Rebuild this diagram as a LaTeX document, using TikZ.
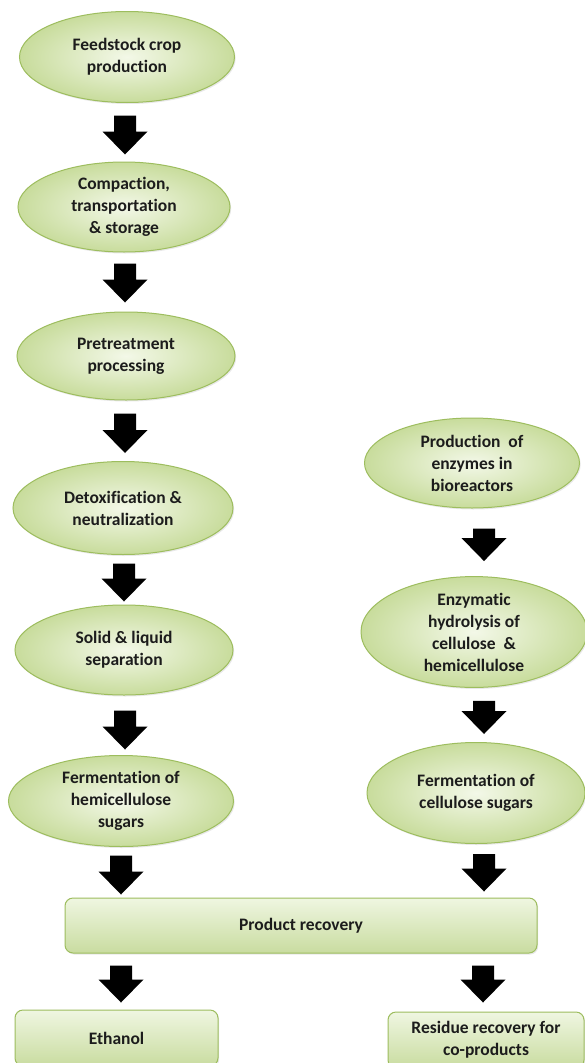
\documentclass[tikz,border=0pt]{standalone}
\usepackage{fontspec}
\setmainfont[Ligatures=NoCommon]{Carlito}
\usetikzlibrary{shapes.geometric,calc,shadows}
\definecolor{edgegreen}{HTML}{9DBD5E}
\definecolor{innergreen}{HTML}{F3F8E8}
\definecolor{outergreen}{HTML}{C8DC9C}
\definecolor{boxtop}{HTML}{EFF6E1}
\definecolor{boxbot}{HTML}{C9DCA0}
\definecolor{txt}{HTML}{1C1C1C}
\tikzset{
  stage/.style={ellipse, draw=edgegreen, line width=1pt, shade, inner color=innergreen, outer color=outergreen,
    inner sep=0pt, align=center, text=txt, font=\bfseries\fontsize{17.5}{22}\selectfont,
    drop shadow={opacity=0.18, shadow xshift=1.2pt, shadow yshift=-1.5pt}},
  outbox/.style={rectangle, rounded corners=8pt, draw=edgegreen, line width=1pt, shade, top color=boxtop, bottom color=boxbot,
    inner sep=0pt, align=center, text=txt, font=\bfseries\fontsize{17.5}{22}\selectfont,
    drop shadow={opacity=0.18, shadow xshift=1.2pt, shadow yshift=-1.5pt}},
  blk/.style={fill=black, draw=none, to path={let \p1=(\tikztostart), \p2=(\tikztotarget) in
    (\x1-11pt,\y1) -- (\x1+11pt,\y1) -- (\x1+11pt,\y2+23pt) -- (\x1+22.5pt,\y2+23pt) -- (\x1,\y2)
    -- (\x1-22.5pt,\y2+23pt) -- (\x1-11pt,\y2+23pt) -- cycle}}
}
\begin{document}
\begin{tikzpicture}[x=1pt,y=-1pt]
\useasboundingbox[fill=white] (0,0) rectangle (585,1063);
% left column
\node[stage, minimum width=215pt, minimum height=91pt] (n1) at (127,57) {Feedstock crop\\production};
\node[stage, minimum width=212pt, minimum height=90pt] (n2) at (124,207) {Compaction,\\transportation\\\& storage};
\node[stage, minimum width=218pt, minimum height=88pt] (n3) at (126,356) {Pretreatment\\processing};
\node[stage, minimum width=220pt, minimum height=93pt] (n4) at (123,508) {Detoxification \&\\neutralization};
\node[stage, minimum width=218pt, minimum height=90pt] (n5) at (124,650) {Solid \& liquid\\separation};
\node[stage, minimum width=225pt, minimum height=91pt] (n6) at (121,801) {Fermentation of\\hemicellulose\\sugars};
% right column
\node[stage, minimum width=215pt, minimum height=90pt] (n7) at (472,463) {Production~ of\\enzymes in\\bioreactors};
\node[stage, minimum width=226pt, minimum height=100pt] (n8) at (474,632) {Enzymatic\\hydrolysis of\\cellulose~ \&\\hemicellulose};
\node[stage, minimum width=218pt, minimum height=101pt] (n9) at (476,793) {Fermentation of\\cellulose sugars};
% boxes
\node[outbox, minimum width=472pt, minimum height=55pt] (pr) at (301,925.5) {Product recovery};
\node[outbox, minimum width=203pt, minimum height=56pt] (eth) at (116.5,1038) {Ethanol};
\node[outbox, minimum width=196pt, minimum height=56pt] (res) at (486,1040) {Residue recovery for\\co-products};
% arrows
\path[blk] ([xshift=-2pt,yshift=-12.5pt]n1.south) to ([xshift=-2pt,yshift=7pt]n1.south |- n2.north);
\path[blk] ([xshift=1pt,yshift=-11pt]n2.south) to ([xshift=1pt,yshift=9pt]n2.south |- n3.north);
\path[blk] ([xshift=-1pt,yshift=-13pt]n3.south) to ([xshift=-1pt,yshift=8pt]n3.south |- n4.north);
\path[blk] ([xshift=1pt,yshift=-8.5pt]n4.south) to ([xshift=1pt,yshift=3pt]n4.south |- n5.north);
\path[blk] ([xshift=1pt,yshift=-15pt]n5.south) to ([xshift=1pt,yshift=5.5pt]n5.south |- n6.north);
\path[blk] ([yshift=-8.5pt]n6.south) to ([yshift=3pt]n6.south |- pr.north);
\path[blk] ([xshift=12pt,yshift=-20pt]n7.south) to ([xshift=12pt,yshift=15pt]n7.south |- n8.north);
\path[blk] ([xshift=10pt,yshift=-13pt]n8.south) to ([xshift=10pt,yshift=8pt]n8.south |- n9.north);
\path[blk] ([xshift=8pt,yshift=-10pt]n9.south) to ([xshift=8pt,yshift=6pt]n9.south |- pr.north);
\path[blk] ([xshift=4.5pt,yshift=-12pt]pr.south -| eth.north) to ([xshift=4.5pt,yshift=7pt]eth.north);
\path[blk] ([xshift=-3pt,yshift=-12pt]pr.south -| res.north) to ([xshift=-3pt,yshift=9pt]res.north);
\end{tikzpicture}
\end{document}
